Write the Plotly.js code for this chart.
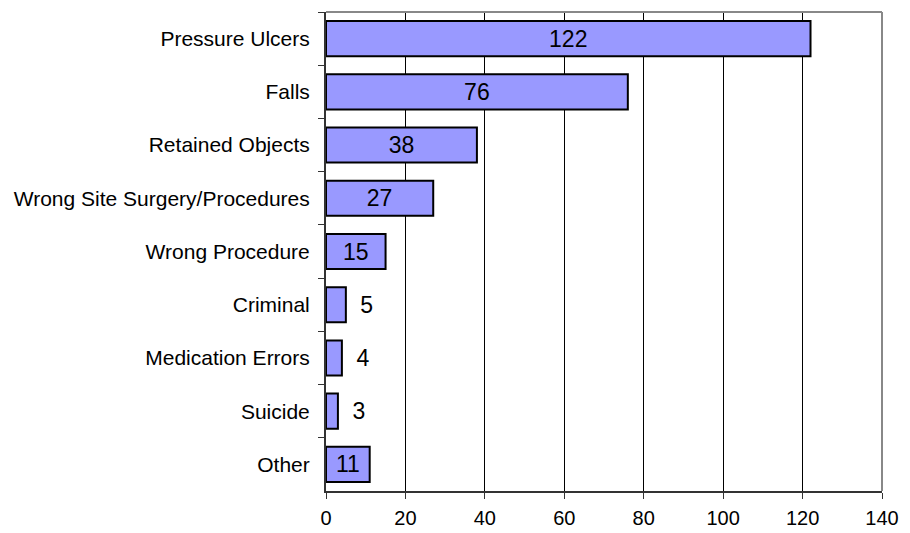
<!DOCTYPE html>
<html><head><meta charset="utf-8">
<script src="https://cdn.plot.ly/plotly-3.0.1.min.js"></script>
<style>html,body{margin:0;padding:0;background:#fff}</style>
</head><body>
<div id="chart" style="width:910px;height:533px"></div>
<script>
const categories = ["Pressure Ulcers","Falls","Retained Objects","Wrong Site Surgery/Procedures","Wrong Procedure","Criminal","Medication Errors","Suicide","Other"];
const values = [122,76,38,27,15,5,4,3,11];
const labelPositions = ["inside","inside","inside","inside","inside","outside","outside","outside","inside"];
const xTicks = [0,20,40,60,80,100,120,140];

const FONT = 'Liberation Sans, Arial, sans-serif';
const trace = {
  type: 'bar', orientation: 'h',
  y: categories, x: values,
  text: values.map((v, i) => labelPositions[i] === 'outside' ? '\u2002' + v : String(v)),
  textposition: labelPositions,
  insidetextanchor: 'middle',
  textfont: {family: FONT, size: 23, color: '#000'},
  outsidetextfont: {family: FONT, size: 23, color: '#000'},
  insidetextfont: {family: FONT, size: 23, color: '#000'},
  constraintext: 'none',
  cliponaxis: false,
  marker: {color: '#9999FF', line: {color: '#000', width: 2}},
  width: 0.66,
  hoverinfo: 'none'
};
const layout = {
  width: 910, height: 533,
  margin: {l: 326, r: 28, t: 12, b: 42},
  paper_bgcolor: '#fff', plot_bgcolor: '#fff',
  showlegend: false,
  font: {family: FONT, size: 20, color: '#000'},
  xaxis: {
    range: [0, 140], tickvals: xTicks, ticktext: xTicks.map(String),
    showgrid: true, gridcolor: '#000', gridwidth: 1,
    zeroline: false, showline: true, linecolor: '#333', linewidth: 2,
    ticks: 'outside', ticklen: 6, tickcolor: '#333', tickwidth: 1,
    tickfont: {size: 20}, ticklabelstandoff: 2, fixedrange: true
  },
  yaxis: {
    type: 'category', categoryorder: 'array', categoryarray: categories,
    autorange: 'reversed',
    showgrid: false, zeroline: false, showline: true, linecolor: '#333', linewidth: 2,
    ticks: 'outside', tickson: 'boundaries', ticklen: 6, tickcolor: '#333', tickwidth: 1,
    tickfont: {size: 21}, ticklabelstandoff: 10, fixedrange: true
  },
  shapes: [
    {type: 'line', xref: 'paper', yref: 'paper', x0: 0, x1: 1, y0: 1, y1: 1, line: {color: '#888', width: 2}},
    {type: 'line', xref: 'paper', yref: 'paper', x0: 1, x1: 1, y0: 0, y1: 1, line: {color: '#888', width: 2}}
  ]
};
Plotly.newPlot('chart', [trace], layout, {displayModeBar: false, staticPlot: true});
</script>
</body></html>
